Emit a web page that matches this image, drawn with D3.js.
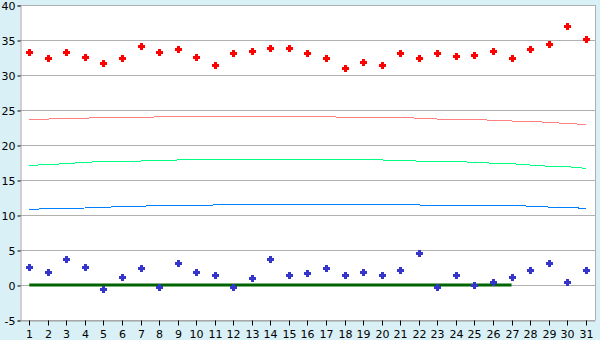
<!DOCTYPE html>
<html>
<head>
<meta charset="utf-8">
<script src="https://cdn.jsdelivr.net/npm/d3@7"></script>
<style>
	body { margin:0; background:#d9f0f6; }
	svg text { font-family:"DejaVu Sans", Verdana, sans-serif; font-size:11px; fill:#000; }
</style>
</head>
<body>
<div id="chart"></div>
<script>
// categories 1..31
const days= ["1","2","3","4","5","6","7","8","9","10","11","12","13","14","15","16","17","18","19","20","21","22","23","24","25","26","27","28","29","30","31"];
const yTicks= [-5,0,5,10,15,20,25,30,35,40];
// red points
const highVals= [33.3,32.4,33.3,32.6,31.7,32.4,34.2,33.3,33.7,32.5,31.4,33.1,33.4,33.8,33.8,33.2,32.4,31.0,31.8,31.4,33.1,32.4,33.1,32.7,32.9,33.4,32.4,33.7,34.5,37.0,35.2];
// blue points
const lowVals= [2.6,1.9,3.7,2.6,-0.6,1.1,2.5,-0.3,3.1,1.9,1.5,-0.3,0.95,3.7,1.4,1.7,2.4,1.4,1.8,1.5,2.1,4.5,-0.3,1.4,0,0.4,1.1,2.1,3.2,0.4,2.1];
// smooth lines
const pinkVals= [23.63,23.71,23.77,23.84,23.91,23.94,23.97,24.01,24.04,24.07,24.09,24.1,24.1,24.1,24.09,24.07,24.01,23.99,23.96,23.93,23.9,23.84,23.71,23.69,23.63,23.54,23.43,23.36,23.24,23.07,22.93];
const greenVals= [17.09,17.2,17.34,17.53,17.63,17.67,17.71,17.77,17.86,17.91,17.94,17.96,17.97,17.97,17.97,17.96,17.96,17.94,17.91,17.86,17.79,17.7,17.66,17.63,17.53,17.4,17.33,17.14,16.97,16.91,16.67];
const blueVals= [10.8,10.91,10.96,11.0,11.1,11.2,11.26,11.34,11.37,11.4,11.43,11.44,11.5,11.51,11.51,11.51,11.51,11.51,11.51,11.51,11.49,11.43,11.39,11.39,11.39,11.39,11.36,11.26,11.14,11.09,10.94];
// dark green zero line (days 1..27)
const zeroVals= [0,0,0,0,0,0,0,0,0,0,0,0,0,0,0,0,0,0,0,0,0,0,0,0,0,0,0];

const w= 600, h= 340;
const padL= 20, padR= 595, padT= 5, padB= 320;

const svg= d3.select("#chart").append("svg")
	.attr("width", w)
	.attr("height", h)
	.style("display","block");

svg.append("rect")
	.attr("x",padL).attr("y",padT)
	.attr("width",padR-padL).attr("height",padB-padT)
	.attr("fill","#fff");

const xScale= d3.scaleBand().domain(days).range([padL,padR]);
const yScale= d3.scaleLinear().domain([-5,40]).range([padB,padT]);
const xc= (d)=> xScale(d)+xScale.bandwidth()/2;

//grid
svg.append("g").selectAll("line")
	.data(yTicks).enter().append("line")
	.attr("x1",padL).attr("x2",padR)
	.attr("y1",(d)=> Math.round(yScale(d))+0.5)
	.attr("y2",(d)=> Math.round(yScale(d))+0.5)
	.attr("stroke","#b0b0b0");

// right border
svg.append("line")
	.attr("x1",padR+0.5).attr("x2",padR+0.5)
	.attr("y1",padT).attr("y2",padB)
	.attr("stroke","#b0b0b0");

// y axis
const yAxis= d3.axisLeft(yScale).tickValues(yTicks).tickSize(3).tickPadding(2);
const gy= svg.append("g")
	.attr("transform","translate("+(padL+0.5)+",0.5)")
	.call(yAxis);
gy.select(".domain").attr("stroke","#a0a0a0");
gy.selectAll(".tick line").attr("stroke","#000");
gy.selectAll("text").text((d)=> d<0 ? "-"+Math.abs(d) : d);

// x axis
const xAxis= d3.axisBottom(xScale).tickSize(5).tickPadding(5).tickSizeOuter(0);
const gx= svg.append("g")
	.attr("transform","translate(0,"+(padB+0.5)+")")
	.call(xAxis);
gx.select(".domain").attr("stroke","#a0a0a0");
gx.selectAll(".tick line").attr("stroke","#000");
gx.selectAll(".tick").attr("transform",(d)=> "translate("+(Math.round(xc(d))+0.5)+",0)");

svg.selectAll(".tick text").style("font-family",'"DejaVu Sans", Verdana, sans-serif').style("font-size","11px");

// lines
const lineGen= d3.line().x((d,i)=> xc(days[i])).y((d)=> yScale(d));
const lines= [
	{vals: pinkVals, col:"#ff8080", wd:1},
	{vals: greenVals, col:"#00ff80", wd:1},
	{vals: blueVals, col:"#0080ff", wd:1}
];
lines.forEach((l)=>
{
	svg.append("path")
	.datum(l.vals)
	.attr("d",lineGen)
	.attr("fill","none")
	.attr("stroke",l.col)
	.attr("stroke-width",l.wd)
	.attr("shape-rendering","crispEdges");
});

svg.append("path")
	.datum(zeroVals)
	.attr("d",lineGen)
	.attr("fill","none")
	.attr("stroke","#006400")
	.attr("stroke-width",3);

// markers (plus shaped)
const plus= (s,t)=> { const a=s/2, b=t/2; return "M"+(-b)+","+(-a)+"H"+b+"V"+(-b)+"H"+a+"V"+b+"H"+b+"V"+a+"H"+(-b)+"V"+b+"H"+(-a)+"V"+(-b)+"H"+(-b)+"Z"; };

svg.append("g").selectAll("path")
	.data(highVals).enter().append("path")
	.attr("d",plus(7,3))
	.attr("transform",(d,i)=> "translate("+(Math.round(xc(days[i]))+0.5)+","+(Math.round(yScale(d))+0.5)+")")
	.attr("fill","#ff0000")
	.attr("shape-rendering","crispEdges");

svg.append("g").selectAll("path")
	.data(lowVals).enter().append("path")
	.attr("d",plus(7,3))
	.attr("transform",(d,i)=> "translate("+(Math.round(xc(days[i]))+0.5)+","+(Math.round(yScale(d))+0.5)+")")
	.attr("fill","#3535cc")
	.attr("shape-rendering","crispEdges");
</script>
</body>
</html>
